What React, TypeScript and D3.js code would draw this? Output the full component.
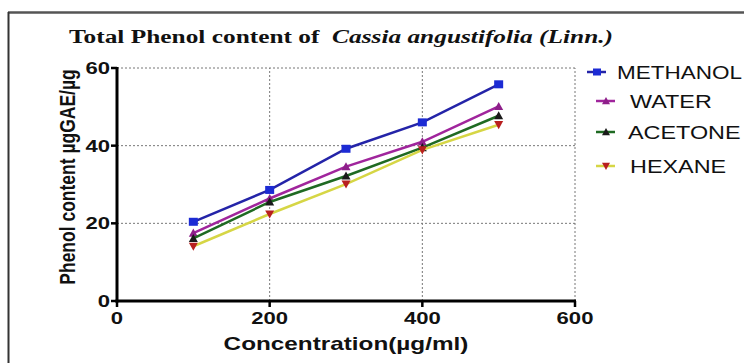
import React from "react";
import * as d3 from "d3";

const concentrations = [100, 200, 300, 400, 500];
const methanol = [20.4, 28.6, 39.2, 46.0, 55.8];
const water = [17.5, 26.4, 34.6, 41.0, 50.1];
const acetone = [16.1, 25.5, 32.2, 39.5, 47.7];
const hexane = [14.1, 22.4, 30.1, 38.9, 45.4];
const seriesNames = ["METHANOL", "WATER", "ACETONE", "HEXANE"];
const xTicks = [0, 200, 400, 600];
const yTicks = [0, 20, 40, 60];

const W = 744;
const H = 363;
const SX = 1.3;

const series = [
  { name: seriesNames[0], values: methanol, line: "#2424a8", mark: "#1c2bd4", shape: "square", legendX: 597, textX: 617, sx: 1.25 },
  { name: seriesNames[1], values: water, line: "#a0259c", mark: "#8e1f8a", shape: "up", legendX: 606, textX: 630, sx: 1.3 },
  { name: seriesNames[2], values: acetone, line: "#1f6a22", mark: "#1a1a1a", shape: "up", legendX: 606, textX: 628, sx: 1.3 },
  { name: seriesNames[3], values: hexane, line: "#d6d645", mark: "#b81f1f", shape: "down", legendX: 606, textX: 630, sx: 1.3 },
];

function Marker({ shape, x, y, color, s = 4.5 }: any) {
  if (shape === "square") return <rect x={x - s} y={y - s + 0.5} width={2 * s} height={2 * s - 1} fill={color} />;
  if (shape === "up")
    return <path d={`M${x},${y - s}L${x + s},${y + s * 0.8}L${x - s},${y + s * 0.8}Z`} fill={color} />;
  return <path d={`M${x},${y + s}L${x + s},${y - s * 0.8}L${x - s},${y - s * 0.8}Z`} fill={color} />;
}

export default function App() {
  const x = d3.scaleLinear().domain([0, 600]).range([117, 575]);
  const y = d3.scaleLinear().domain([0, 60]).range([301, 68]);
  const line = d3
    .line<number>()
    .x((_, i) => x(concentrations[i]))
    .y((d) => y(d));

  const legendY = [72, 101, 132, 166];

  return (
    <svg width={W} height={H} style={{ position: "absolute", left: 0, top: 0, background: "#fff" }}>
      <rect width={W} height={H} fill="#fff" />
      {/* frame */}
      <line x1={8} x2={W} y1={12.5} y2={12.5} stroke="#555" strokeWidth={2.5} />
      <line x1={8.5} x2={8.5} y1={12} y2={H} stroke="#333" strokeWidth={2} />

      {/* title */}
      <text
        transform={`translate(69,43) scale(1.3,1)`}
        fontFamily="'Liberation Serif', 'Times New Roman', serif"
        fontWeight="bold"
        fontSize={19.5}
        fill="#111"
      >
        Total Phenol content of{"\u00a0 "}
        <tspan fontStyle="italic">Cassia angustifolia (Linn.)</tspan>
      </text>

      {/* grid */}
      {yTicks.filter((t) => t > 0).map((t) => (
        <line key={"gy" + t} x1={x(0)} x2={x(600)} y1={y(t)} y2={y(t)} stroke="#777" strokeWidth={1} strokeDasharray="2,2" />
      ))}
      {xTicks.filter((t) => t > 0).map((t) => (
        <line key={"gx" + t} x1={x(t)} x2={x(t)} y1={y(0)} y2={y(60)} stroke="#777" strokeWidth={1} strokeDasharray="2,2" />
      ))}

      {/* axes */}
      <line x1={x(0)} x2={x(0)} y1={y(60) - 1} y2={y(0) + 1.5} stroke="#000" strokeWidth={3} />
      <line x1={x(0) - 1.5} x2={x(600) + 1} y1={y(0)} y2={y(0)} stroke="#000" strokeWidth={3} />
      {yTicks.map((t) => (
        <g key={"yt" + t}>
          <line x1={x(0) - 6} x2={x(0)} y1={y(t)} y2={y(t)} stroke="#000" strokeWidth={2.5} />
          <text
            transform={`translate(${x(0) - 7},${y(t) + 6}) scale(${SX},1)`}
            textAnchor="end"
            fontFamily="'Liberation Sans', Arial, sans-serif"
            fontWeight="bold"
            fontSize={17}
            fill="#111"
          >
            {t}
          </text>
        </g>
      ))}
      {xTicks.map((t) => (
        <g key={"xt" + t}>
          <line x1={x(t)} x2={x(t)} y1={y(0)} y2={y(0) + 6} stroke="#000" strokeWidth={2.5} />
          <text
            transform={`translate(${x(t)},${y(0) + 23}) scale(${SX},1)`}
            textAnchor="middle"
            fontFamily="'Liberation Sans', Arial, sans-serif"
            fontWeight="bold"
            fontSize={17}
            fill="#111"
          >
            {t}
          </text>
        </g>
      ))}

      {/* axis labels */}
      <text
        transform={`translate(346,350) scale(1.35,1)`}
        textAnchor="middle"
        fontFamily="'Liberation Sans', Arial, sans-serif"
        fontWeight="bold"
        fontSize={18}
        fill="#111"
      >
        Concentration(µg/ml)
      </text>
      <text
        transform={`translate(75,177) scale(${SX},1) rotate(-90)`}
        textAnchor="middle"
        fontFamily="'Liberation Sans', Arial, sans-serif"
        fontWeight="bold"
        fontSize={17.5}
        fill="#111"
      >
        Phenol content µgGAE/µg
      </text>

      {/* series */}
      {series.map((s) => (
        <g key={s.name}>
          <path d={line(s.values) || ""} fill="none" stroke={s.line} strokeWidth={2.5} />
          {s.values.map((v, i) => (
            <Marker key={i} shape={s.shape} x={x(concentrations[i])} y={y(v)} color={s.mark} />
          ))}
        </g>
      ))}

      {/* legend */}
      {series.map((s, i) => (
        <g key={"lg" + s.name}>
          <line x1={s.legendX - 10} x2={s.legendX + 9} y1={legendY[i]} y2={legendY[i]} stroke={s.line} strokeWidth={2.5} />
          <Marker shape={s.shape} x={s.legendX} y={legendY[i]} color={s.mark} s={4} />
          <text
            transform={`translate(${s.textX},${legendY[i] + 6.5}) scale(${s.sx},1)`}
            fontFamily="'Liberation Sans', Arial, sans-serif"
            fontSize={18}
            fill="#111"
          >
            {s.name}
          </text>
        </g>
      ))}
    </svg>
  );
}
